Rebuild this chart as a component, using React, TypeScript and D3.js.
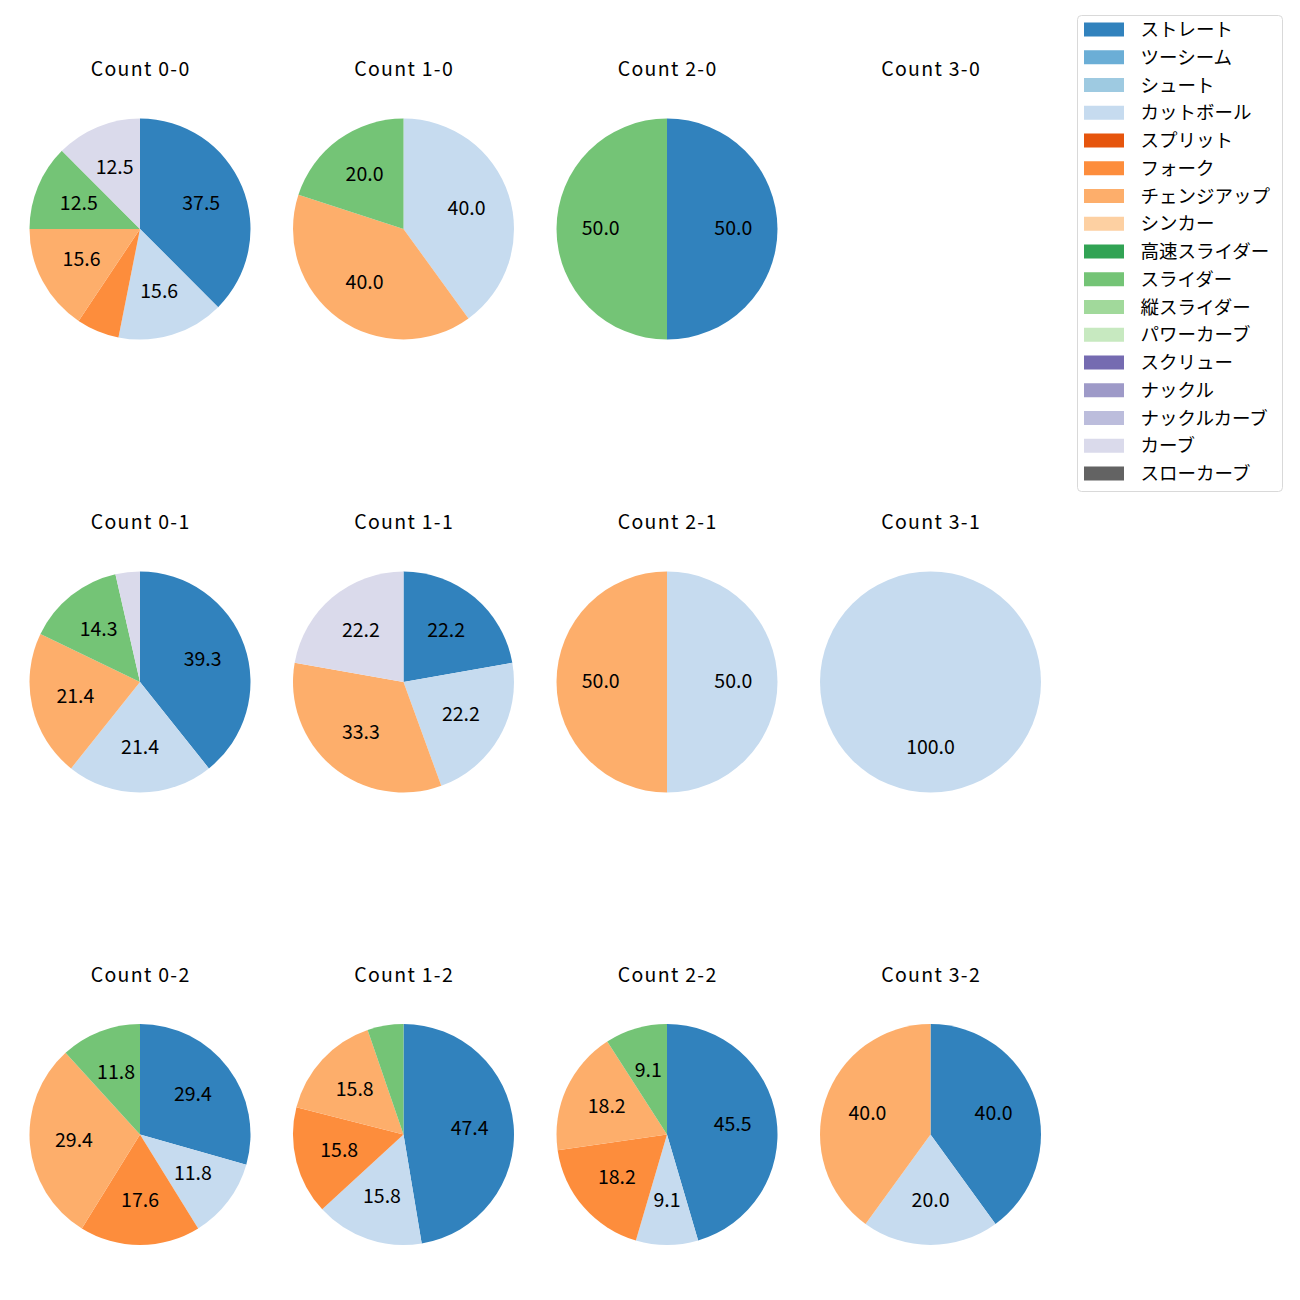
import React from "react";
import * as d3 from "d3";

const pitchTypes = ["ストレート","ツーシーム","シュート","カットボール","スプリット","フォーク","チェンジアップ","シンカー","高速スライダー","スライダー","縦スライダー","パワーカーブ","スクリュー","ナックル","ナックルカーブ","カーブ","スローカーブ"];
const pitchColors = ["#3182bd","#6baed6","#9ecae1","#c6dbef","#e6550d","#fd8d3c","#fdae6b","#fdd0a2","#31a354","#74c476","#a1d99b","#c7e9c0","#756bb1","#9e9ac8","#bcbddc","#dadaeb","#636363"];

const titles = ["Count 0-0","Count 1-0","Count 2-0","Count 3-0","Count 0-1","Count 1-1","Count 2-1","Count 3-1","Count 0-2","Count 1-2","Count 2-2","Count 3-2"];

// counts per pitch type, in legend order
type Entry = [string, number];
const count00: Entry[] = [["ストレート",12],["カットボール",5],["フォーク",2],["チェンジアップ",5],["スライダー",4],["カーブ",4]];
const count10: Entry[] = [["カットボール",2],["チェンジアップ",2],["スライダー",1]];
const count20: Entry[] = [["ストレート",1],["スライダー",1]];
const count30: Entry[] = [];
const count01: Entry[] = [["ストレート",11],["カットボール",6],["チェンジアップ",6],["スライダー",4],["カーブ",1]];
const count11: Entry[] = [["ストレート",2],["カットボール",2],["チェンジアップ",3],["カーブ",2]];
const count21: Entry[] = [["カットボール",1],["チェンジアップ",1]];
const count31: Entry[] = [["カットボール",1]];
const count02: Entry[] = [["ストレート",5],["カットボール",2],["フォーク",3],["チェンジアップ",5],["スライダー",2]];
const count12: Entry[] = [["ストレート",9],["カットボール",3],["フォーク",3],["チェンジアップ",3],["スライダー",1]];
const count22: Entry[] = [["ストレート",5],["カットボール",1],["フォーク",2],["チェンジアップ",2],["スライダー",1]];
const count32: Entry[] = [["ストレート",2],["カットボール",1],["チェンジアップ",2]];

const allCounts = [count00,count10,count20,count30,count01,count11,count21,count31,count02,count12,count22,count32];

const colX = [140, 403.5, 667, 930.5];
const rowY = [229, 682, 1134.5];
const titleOffset = 161.5;
const R = 110.5;
const FONT = "'Noto Sans CJK JP', 'Noto Sans', sans-serif";

const color = d3.scaleOrdinal<string, string>().domain(pitchTypes).range(pitchColors);

export default function App() {
  const pie = d3.pie<Entry>().sort(null).value(d => d[1]).startAngle(0).endAngle(2 * Math.PI);
  const arc = d3.arc<d3.PieArcDatum<Entry>>().innerRadius(0).outerRadius(R);
  const labelR = R * 0.6;
  const titleLS = 1.3;

  return (
    <svg width={1300} height={1300} style={{ position: "absolute", left: 0, top: 0 }} fontFamily={FONT}>
      <rect width={1300} height={1300} fill="#fff" />
      {allCounts.map((data, i) => {
        const cx = colX[i % 4];
        const cy = rowY[Math.floor(i / 4)];
        const total = d3.sum(data, d => d[1]);
        const arcs = pie(data);
        return (
          <g key={i}>
            <text x={cx + titleLS / 2} y={cy - titleOffset} textAnchor="middle" dominantBaseline="central" fontSize={19.5} letterSpacing={titleLS} fill="#000">{titles[i]}</text>
            {data.length > 0 && (
              <g transform={`translate(${cx},${cy})`}>
                {arcs.map((a, j) => (
                  <path key={j} d={arc(a) || ""} fill={color(a.data[0])} />
                ))}
                {arcs.map((a, j) => {
                  const pct = (a.data[1] / total) * 100;
                  if (pct < 8) return null;
                  const mid = (a.startAngle + a.endAngle) / 2;
                  const x = Math.sin(mid) * labelR;
                  const y = -Math.cos(mid) * labelR;
                  return (
                    <text key={"t" + j} x={x} y={y - 2.5} textAnchor="middle" dominantBaseline="central" fontSize={19.5} fill="#000">{pct.toFixed(1)}</text>
                  );
                })}
              </g>
            )}
          </g>
        );
      })}
      <g>
        <rect x={1077.5} y={15.5} width={205} height={476} rx={4} fill="#fff" stroke="#d9d9d9" strokeWidth={1} />
        {pitchTypes.map((p, k) => {
          const y = 29.5 + k * 27.75;
          return (
            <g key={p}>
              <rect x={1084} y={y - 7} width={40} height={14} fill={color(p)} />
              <text x={1140.5} y={y - 1.5} dominantBaseline="central" fontSize={18.5} fill="#000">{p}</text>
            </g>
          );
        })}
      </g>
    </svg>
  );
}
